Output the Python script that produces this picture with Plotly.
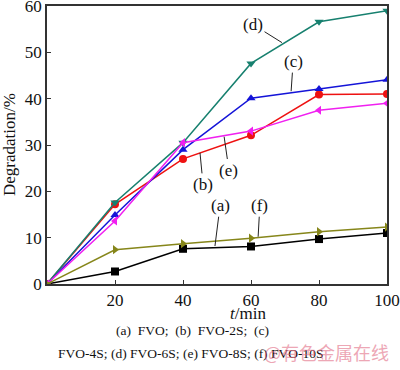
import plotly.graph_objects as go

t = [0, 20, 40, 60, 80, 100]
fvo     = [0, 2.7, 7.6, 8.1, 9.7, 11.0]      # (a)
fvo_2s  = [0, 17.2, 27.0, 32.1, 40.9, 41.0]  # (b)
fvo_4s  = [0, 14.9, 29.0, 40.1, 42.1, 44.1]  # (c)
fvo_6s  = [0, 17.6, 30.5, 47.6, 56.6, 59.0]  # (d)
fvo_8s  = [0, 13.6, 30.5, 33.0, 37.5, 39.0]  # (e)
fvo_10s = [0, 7.4, 8.7, 9.9, 11.3, 12.3]     # (f)

series = [
    ("(a) FVO", fvo, "#000000", "square"),
    ("(b) FVO-2S", fvo_2s, "#ee1111", "circle"),
    ("(c) FVO-4S", fvo_4s, "#1414d8", "triangle-up"),
    ("(d) FVO-6S", fvo_6s, "#17806f", "triangle-down"),
    ("(e) FVO-8S", fvo_8s, "#f020f0", "triangle-left"),
    ("(f) FVO-10S", fvo_10s, "#86861a", "triangle-right"),
]

# label text, text position (data), leader end (data)
labels = [
    ("(a)", (50.9, 16.9), (49.4, 8.2)),
    ("(b)", (45.9, 21.5), (45.0, 28.3)),
    ("(c)", (72.4, 48.0), (71.8, 41.6)),
    ("(d)", (60.6, 56.0), (69.1, 52.1)),
    ("(e)", (53.5, 24.6), (52.1, 31.8)),
    ("(f)", (62.6, 16.9), (62.1, 10.2)),
]

FONT = "Liberation Serif, Times New Roman, serif"

fig = go.Figure()
for name, ys, col, sym in series:
    fig.add_trace(go.Scatter(
        x=t, y=ys, mode="lines+markers", name=name,
        line=dict(color=col, width=1.5),
        marker=dict(symbol=sym, size=8, color=col),
    ))

for txt, (tx, ty), (ex, ey) in labels:
    fig.add_annotation(
        x=ex, y=ey, ax=tx, ay=ty, axref="x", ayref="y", xref="x", yref="y",
        text=txt, showarrow=True, arrowhead=0, arrowwidth=1, arrowcolor="#222",
        font=dict(family=FONT, size=17, color="#111"), standoff=0,
    )

W, H = 400, 370
L, R, T, B = 47, 13, 6, 86
pw, ph = W - L - R, H - T - B

def px(xp, yp):
    return (xp - L) / pw, (H - B - yp) / ph

annos = [
    ("<i>t</i>/min", 248, 313, 17, "#111"),
    ("(a)  FVO;  (b)  FVO-2S;  (c)", 192, 330, 13.5, "#111"),
    ("FVO-4S; (d) FVO-6S; (e) FVO-8S; (f) FVO-10S", 191, 353, 13.5, "#111"),
]
for txt, xp, yp, sz, col in annos:
    x0, y0 = px(xp, yp)
    fig.add_annotation(x=x0, y=y0, xref="paper", yref="paper", text=txt,
                       xanchor="center", yanchor="middle",
                       showarrow=False, font=dict(family=FONT, size=sz, color=col))

x0, y0 = px(326, 352)
fig.add_annotation(x=x0, y=y0, xref="paper", yref="paper", text="@有色金属在线",
                   xanchor="center", yanchor="middle",
                   showarrow=False, opacity=0.55,
                   font=dict(family="Noto Sans CJK SC", size=18, color="#e0607a"))
x0, y0 = px(9, 145)
fig.add_annotation(x=x0, y=y0, xref="paper", yref="paper", text="Degradation/%",
                   xanchor="center", yanchor="middle",
                   textangle=-90, showarrow=False,
                   font=dict(family=FONT, size=17, color="#111"))

axis_common = dict(showgrid=False, zeroline=False, showline=True, mirror=True,
                   linecolor="#333", linewidth=1.5, ticks="inside", ticklen=4,
                   tickcolor="#333", tickfont=dict(family=FONT, size=17, color="#111"),
                   automargin=False, ticklabeloverflow="allow")
fig.update_xaxes(range=[0, 100], tickvals=[20, 40, 60, 80, 100], **axis_common)
fig.update_yaxes(range=[0, 60], tickvals=[0, 10, 20, 30, 40, 50, 60], **axis_common)

fig.update_layout(
    width=W, height=H, margin=dict(l=L, r=R, t=T, b=B),
    paper_bgcolor="white", plot_bgcolor="white", showlegend=False,
)
fig.write_html("out.html", config={"displayModeBar": False},
               post_script="document.body.style.margin='0';document.body.style.overflow='hidden';")
